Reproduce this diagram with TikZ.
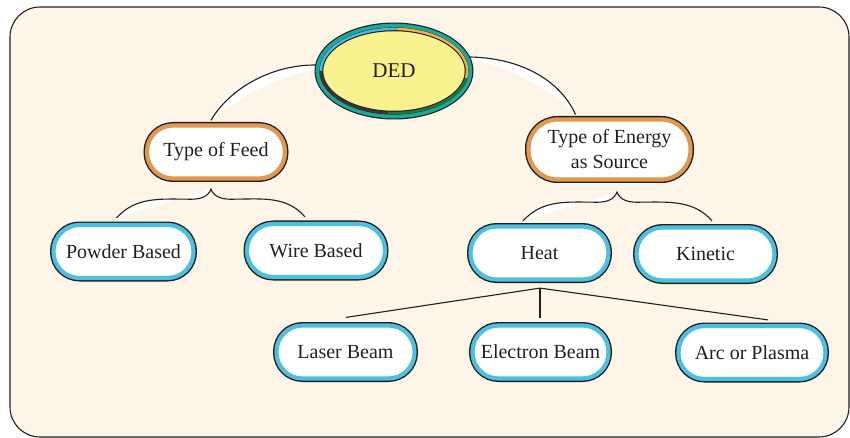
\documentclass[tikz,border=0pt]{standalone}
\usepackage{fontspec}
\setmainfont{Liberation Serif}
\usetikzlibrary{calc,shapes.geometric}

\definecolor{paper}{RGB}{252,245,232}
\definecolor{ink}{RGB}{35,31,32}
\definecolor{cyanring}{RGB}{76,192,222}
\definecolor{orangering}{RGB}{226,153,78}
\definecolor{tealring}{RGB}{26,168,152}
\definecolor{dedyellow}{RGB}{249,242,143}
\definecolor{arcblue}{RGB}{78,182,226}
\definecolor{arcorange}{RGB}{244,178,72}
\definecolor{arcgreen}{RGB}{30,120,60}
\definecolor{arcdark}{RGB}{55,55,55}

\pgfdeclarelayer{back}
\pgfdeclarelayer{links}
\pgfsetlayers{back,links,main}

% curly brace from a left end (#1) up to a tip (#2) and down to a right end (#3)
\newcommand{\curlybrace}[3]{%
  \fill[shine] (#1) .. controls +(19,-21) and +(-25,0) .. ($(#2)+(-26,10)$)
     .. controls +(15,1) and +(-3,8) .. (#2) -- cycle;
  \draw[link] (#1) .. controls +(19,-21) and +(-25,0) .. ($(#2)+(-26,10)$)
     .. controls +(15,1) and +(-3,8) .. (#2)
     .. controls +(3,8) and +(-15,1) .. ($(#2)+(26,10)$)
     .. controls +(25,0) and +(-18,-21) .. (#3);
}

\begin{document}
\begin{tikzpicture}[x=1pt,y=-1pt,
  pill/.style={draw=#1, line width=4.2pt, fill=white, rounded corners=26pt,
    preaction={draw=ink, line width=7pt}, minimum height=53pt, inner sep=0pt,
    text=ink, font=\fontsize{20}{25}\selectfont, align=center},
  link/.style={draw=ink, line width=1.1pt},
  shine/.style={fill=white}]

\useasboundingbox (0,0) rectangle (850,438);

% panel
\begin{pgfonlayer}{back}
  \filldraw[fill=paper, draw=ink, line width=1.1pt, rounded corners=30pt]
    (10,7) rectangle (849,437);
\end{pgfonlayer}

% root ellipse with its rings
\coordinate (dedc) at (394,71);
\fill[ink] (dedc) ellipse [x radius=79.5, y radius=48.5];
\fill[tealring] (dedc) ellipse [x radius=78.3, y radius=47.3];
\fill[ink] (dedc) ellipse [x radius=74.6, y radius=43.6];
\begin{scope}[line width=2.6pt]
  \draw[arcblue] ($(dedc)+(180:73 and 42)$) arc [start angle=180, end angle=272, x radius=73, y radius=42];
  \draw[arcorange] ($(dedc)+(272:73 and 42)$) arc [start angle=272, end angle=370, x radius=73, y radius=42];
  \draw[arcgreen] ($(dedc)+(370:73 and 42)$) arc [start angle=370, end angle=455, x radius=73, y radius=42];
  \draw[arcdark] ($(dedc)+(455:73 and 42)$) arc [start angle=455, end angle=540, x radius=73, y radius=42];
\end{scope}
\filldraw[fill=dedyellow, draw=ink, line width=0.9pt] (dedc) ellipse [x radius=71.2, y radius=40.2];
\node[ellipse, minimum width=159pt, minimum height=97pt, text=ink,
      font=\fontsize{21}{25}\selectfont] (ded) at (dedc) {DED};

% category nodes
\node[pill=orangering, minimum width=138pt] (feed) at (216,152) {Type of Feed};
\node[pill=orangering, minimum width=162pt, minimum height=60pt, rounded corners=29pt]
  (energy) at (609.5,149.5) {Type of Energy\\as Source};

\node[pill=cyanring, minimum width=140pt] (powder) at (123.5,251.5) {Powder Based};
\node[pill=cyanring, minimum width=138pt] (wire) at (316,250.5) {Wire Based};
\node[pill=cyanring, minimum width=138pt] (heat) at (539.5,253) {Heat};
\node[pill=cyanring, minimum width=138pt] (kinetic) at (705.5,254) {Kinetic};

\node[pill=cyanring, minimum width=138pt] (laser) at (345.5,352) {Laser Beam};
\node[pill=cyanring, minimum width=136pt] (electron) at (540.5,352) {Electron Beam};
\node[pill=cyanring, minimum width=147pt] (arc) at (752,352.5) {Arc or Plasma};

% connectors
\begin{pgfonlayer}{links}
  \coordinate (fA) at ($(feed.north)+(-5,-3)$);
  \coordinate (dB) at ($(ded.center)+(-76,-6)$);
  \coordinate (dC) at ($(ded.center)+(76,-14)$);
  \coordinate (eD) at ($(energy.north)+(-34,-3)$);

  \fill[shine] (fA) .. controls +(17,-30) and +(-48,-1) .. (dB)
     -- ($(dB)+(-2,5)$) .. controls +(-40,6) and +(27,-22) .. (fA) -- cycle;
  \draw[link] (fA) .. controls +(17,-30) and +(-48,-1) .. (dB);

  \fill[shine] (dC) .. controls +(50,1) and +(-16,-35) .. (eD)
     .. controls +(-26,-26) and +(37,5) .. ($(dC)+(3,4)$) -- cycle;
  \draw[link] (dC) .. controls +(50,1) and +(-16,-35) .. (eD);

  \coordinate (fT) at ($(feed.south)+(-5,8.5)$);
  \coordinate (fL) at ($(powder.north)+(-7,-5)$);
  \coordinate (fR) at ($(wire.north)+(-11,-5)$);
  \curlybrace{fL}{fT}{fR}

  \coordinate (eT) at ($(energy.south)+(7.5,10.5)$);
  \coordinate (eL) at ($(heat.north)+(-16.5,-3.5)$);
  \coordinate (eR) at ($(kinetic.north)+(6.5,-4.5)$);
  \curlybrace{eL}{eT}{eR}

  \coordinate (hJ) at ($(heat.south)+(0.5,6.5)$);
  \draw[link] (hJ) -- ($(laser.north)+(0.5,-6)$);
  \draw[link] (hJ) -- ($(electron.north)+(-0.5,-5.5)$);
  \draw[link] (hJ) -- ($(arc.north)+(16,-4)$);
\end{pgfonlayer}

\end{tikzpicture}
\end{document}
